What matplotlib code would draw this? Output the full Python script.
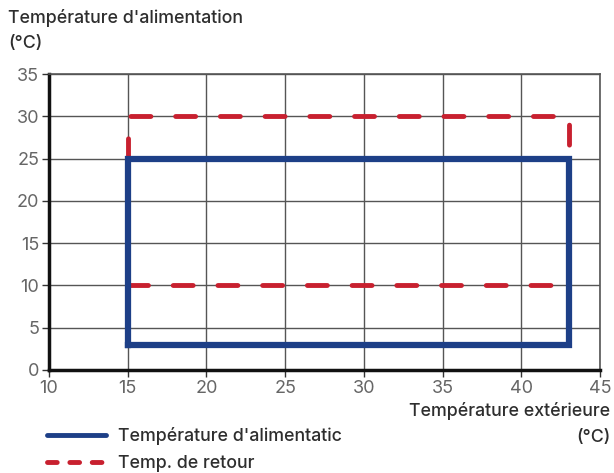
import matplotlib.pyplot as plt
from matplotlib.lines import Line2D

plt.rcParams['font.family'] = ['Inter', 'DejaVu Sans']

# outdoor temperature limits (x) and water temperature limits (y)
supply_x = [15, 43, 43, 15, 15]
supply_y = [3, 3, 25, 25, 3]
return_x = [15, 43, 43, 15, 15]
return_y = [10, 10, 30, 30, 10]

x_ticks = [10, 15, 20, 25, 30, 35, 40, 45]
y_ticks = [0, 5, 10, 15, 20, 25, 30, 35]

BLUE = '#1d3f87'
RED = '#c8202f'
GRID = '#555555'
TEXT = '#2e2e2e'
TICK_TEXT = '#666666'
FS = 12.8

fig = plt.figure(figsize=(6.14, 4.73), dpi=100)
ax = fig.add_axes([49 / 614, 1 - 370 / 473, 551 / 614, 296 / 473])

ax.plot(return_x, return_y, color=RED, lw=3.5, dashes=(4.1, 5.1),
        dash_capstyle='round', solid_joinstyle='miter', zorder=3)
ax.plot(supply_x, supply_y, color=BLUE, lw=4.5, solid_joinstyle='miter',
        solid_capstyle='projecting', zorder=4)

ax.set_xlim(10, 45)
ax.set_ylim(0, 35)
ax.set_xticks(x_ticks)
ax.set_yticks(y_ticks)
ax.grid(True, color=GRID, lw=1)
ax.set_axisbelow(True)

for side in ('top', 'right'):
    ax.spines[side].set_color(GRID)
    ax.spines[side].set_linewidth(1.2)
for side in ('left', 'bottom'):
    ax.spines[side].set_color('#111111')
    ax.spines[side].set_linewidth(2.5)

ax.tick_params(axis='both', length=5, width=1, color='#333333',
               labelsize=13, labelcolor=TICK_TEXT, pad=2)

fig.text(8 / 614, 1 - 18 / 473, "Température d'alimentation", fontsize=FS,
         color=TEXT, ha='left', va='center', fontweight='medium')
fig.text(8 / 614, 1 - 44 / 473, "(°C)", fontsize=FS, color=TEXT,
         ha='left', va='center', fontweight='medium')
fig.text(610 / 614, 1 - 411 / 473, "Température extérieure", fontsize=FS,
         color=TEXT, ha='right', va='center', fontweight='medium')
fig.text(610 / 614, 1 - 437 / 473, "(°C)", fontsize=FS, color=TEXT,
         ha='right', va='center', fontweight='medium')

handles = [
    Line2D([], [], color=BLUE, lw=3.5, solid_capstyle='round'),
    Line2D([], [], color=RED, lw=3.5, dashes=(2.0, 2.6), dash_capstyle='round'),
]
labels = ["Température d'alimentatic", "Temp. de retour"]
fig.legend(handles, labels, loc='upper left', bbox_to_anchor=(47 / 614, 1 - 427 / 473),
           frameon=False, handlelength=3.3, handletextpad=0.7,
           labelspacing=0.55, borderaxespad=0, borderpad=0, labelcolor=TEXT,
           prop={'size': FS, 'weight': 'medium'})

fig.savefig('out.png', dpi=100)
